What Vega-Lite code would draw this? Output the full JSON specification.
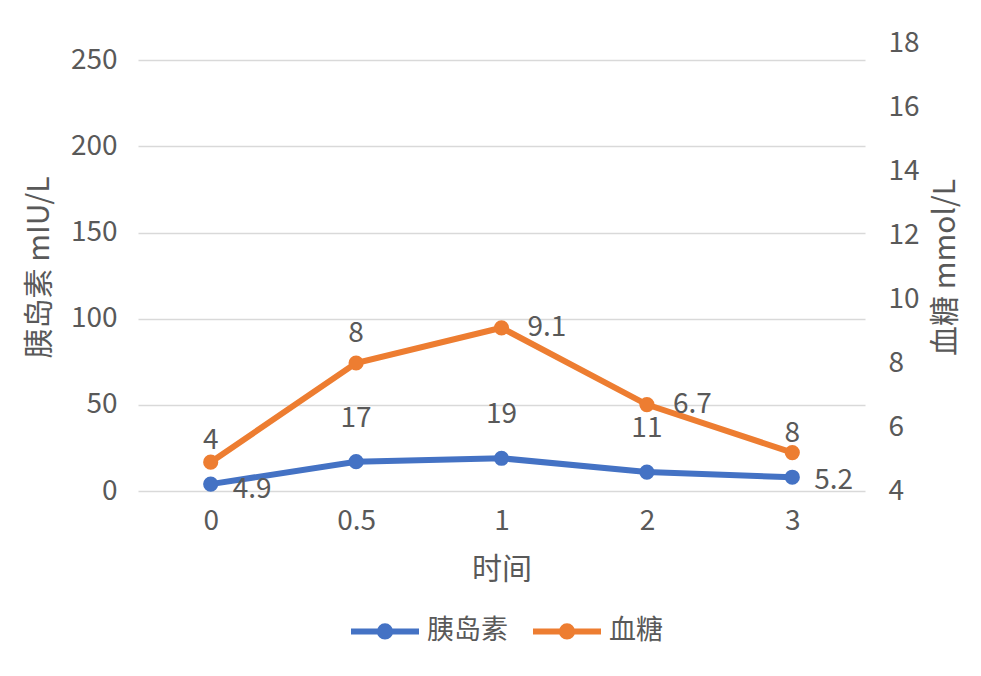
{
  "$schema": "https://vega.github.io/schema/vega-lite/v6.json",
  "width": 727,
  "height": 448,
  "autosize": {"type": "none"},
  "padding": {"left": 138, "top": 43, "right": 116, "bottom": 185},
  "background": "white",
  "config": {
    "view": {"stroke": null},
    "font": "Noto Sans CJK SC",
    "axis": {
      "labelFont": "Noto Sans CJK SC",
      "titleFont": "Noto Sans CJK SC",
      "labelFontSize": 28,
      "titleFontSize": 30,
      "labelColor": "#595959",
      "titleColor": "#595959",
      "titleFontWeight": "normal",
      "domain": false,
      "ticks": false
    }
  },
  "data": {
    "values": [
      {"t": "0", "insulin": 4, "glucose": 4.9},
      {"t": "0.5", "insulin": 17, "glucose": 8},
      {"t": "1", "insulin": 19, "glucose": 9.1},
      {"t": "2", "insulin": 11, "glucose": 6.7},
      {"t": "3", "insulin": 8, "glucose": 5.2}
    ]
  },
  "encoding": {
    "x": {
      "field": "t",
      "type": "ordinal",
      "scale": {"type": "point", "padding": 0.5},
      "axis": {
        "title": "时间",
        "labelAngle": 0,
        "grid": false,
        "labelPadding": 16,
        "titlePadding": 19
      }
    }
  },
  "layer": [
    {
      "encoding": {
        "y": {
          "field": "insulin",
          "type": "quantitative",
          "scale": {"domain": [0, 260], "nice": false},
          "axis": {
            "title": "胰岛素 mIU/L",
            "values": [0, 50, 100, 150, 200, 250],
            "grid": true,
            "gridColor": "#D9D9D9",
            "gridWidth": 1.5,
            "labelPadding": 21,
            "titlePadding": 16
          }
        },
        "color": {
          "datum": "胰岛素",
          "type": "nominal",
          "scale": {"domain": ["胰岛素", "血糖"], "range": ["#4472C4", "#ED7D31"]},
          "legend": {
            "orient": "none",
            "legendX": 210,
            "legendY": 551,
            "direction": "horizontal",
            "title": null,
            "padding": 0,
            "labelFont": "Noto Sans CJK SC",
            "labelFontSize": 27,
            "labelColor": "#595959",
            "labelOffset": 5,
            "columnPadding": 13,
            "symbolType": "M-1,0H1M-0.15,0A0.15,0.15,0,1,0,0.15,0A0.15,0.15,0,1,0,-0.15,0Z",
            "symbolSize": 4624,
            "symbolStrokeWidth": 6,
            "encode": {
              "symbols": {
                "update": {
                  "fill": {"scale": "color", "field": "value"},
                  "stroke": {"scale": "color", "field": "value"}
                }
              }
            }
          }
        }
      },
      "layer": [
        {"mark": {"type": "line", "strokeWidth": 6, "strokeCap": "round"}},
        {"mark": {"type": "point", "filled": true, "size": 230, "opacity": 1}},
        {
          "mark": {"type": "text", "dy": -43, "fontSize": 28},
          "encoding": {
            "text": {"field": "insulin", "type": "quantitative"},
            "color": {"value": "#595959"}
          }
        }
      ]
    },
    {
      "encoding": {
        "y": {
          "field": "glucose",
          "type": "quantitative",
          "scale": {"domain": [4, 18], "nice": false, "zero": false},
          "axis": {
            "title": "血糖 mmol/L",
            "orient": "right",
            "titleAngle": 270,
            "titleBaseline": "top",
            "values": [4, 6, 8, 10, 12, 14, 16, 18],
            "grid": false,
            "labelPadding": 23,
            "titlePadding": 11
          }
        },
        "color": {"datum": "血糖", "type": "nominal"}
      },
      "layer": [
        {"mark": {"type": "line", "strokeWidth": 6, "strokeCap": "round"}},
        {"mark": {"type": "point", "filled": true, "size": 230, "opacity": 1}},
        {
          "transform": [{"filter": "datum.t == '0.5'"}],
          "mark": {"type": "text", "dy": -29, "fontSize": 28},
          "encoding": {
            "text": {"field": "glucose", "type": "quantitative"},
            "color": {"value": "#595959"}
          }
        },
        {
          "transform": [{"filter": "datum.t == '1' || datum.t == '2'"}],
          "mark": {"type": "text", "dx": 26, "align": "left", "fontSize": 28},
          "encoding": {
            "text": {"field": "glucose", "type": "quantitative"},
            "color": {"value": "#595959"}
          }
        },
        {
          "transform": [{"filter": "datum.t == '0' || datum.t == '3'"}],
          "mark": {"type": "text", "dx": 22, "dy": 28, "align": "left", "fontSize": 28},
          "encoding": {
            "text": {"field": "glucose", "type": "quantitative"},
            "color": {"value": "#595959"}
          }
        }
      ]
    }
  ],
  "resolve": {"scale": {"y": "independent"}}
}
